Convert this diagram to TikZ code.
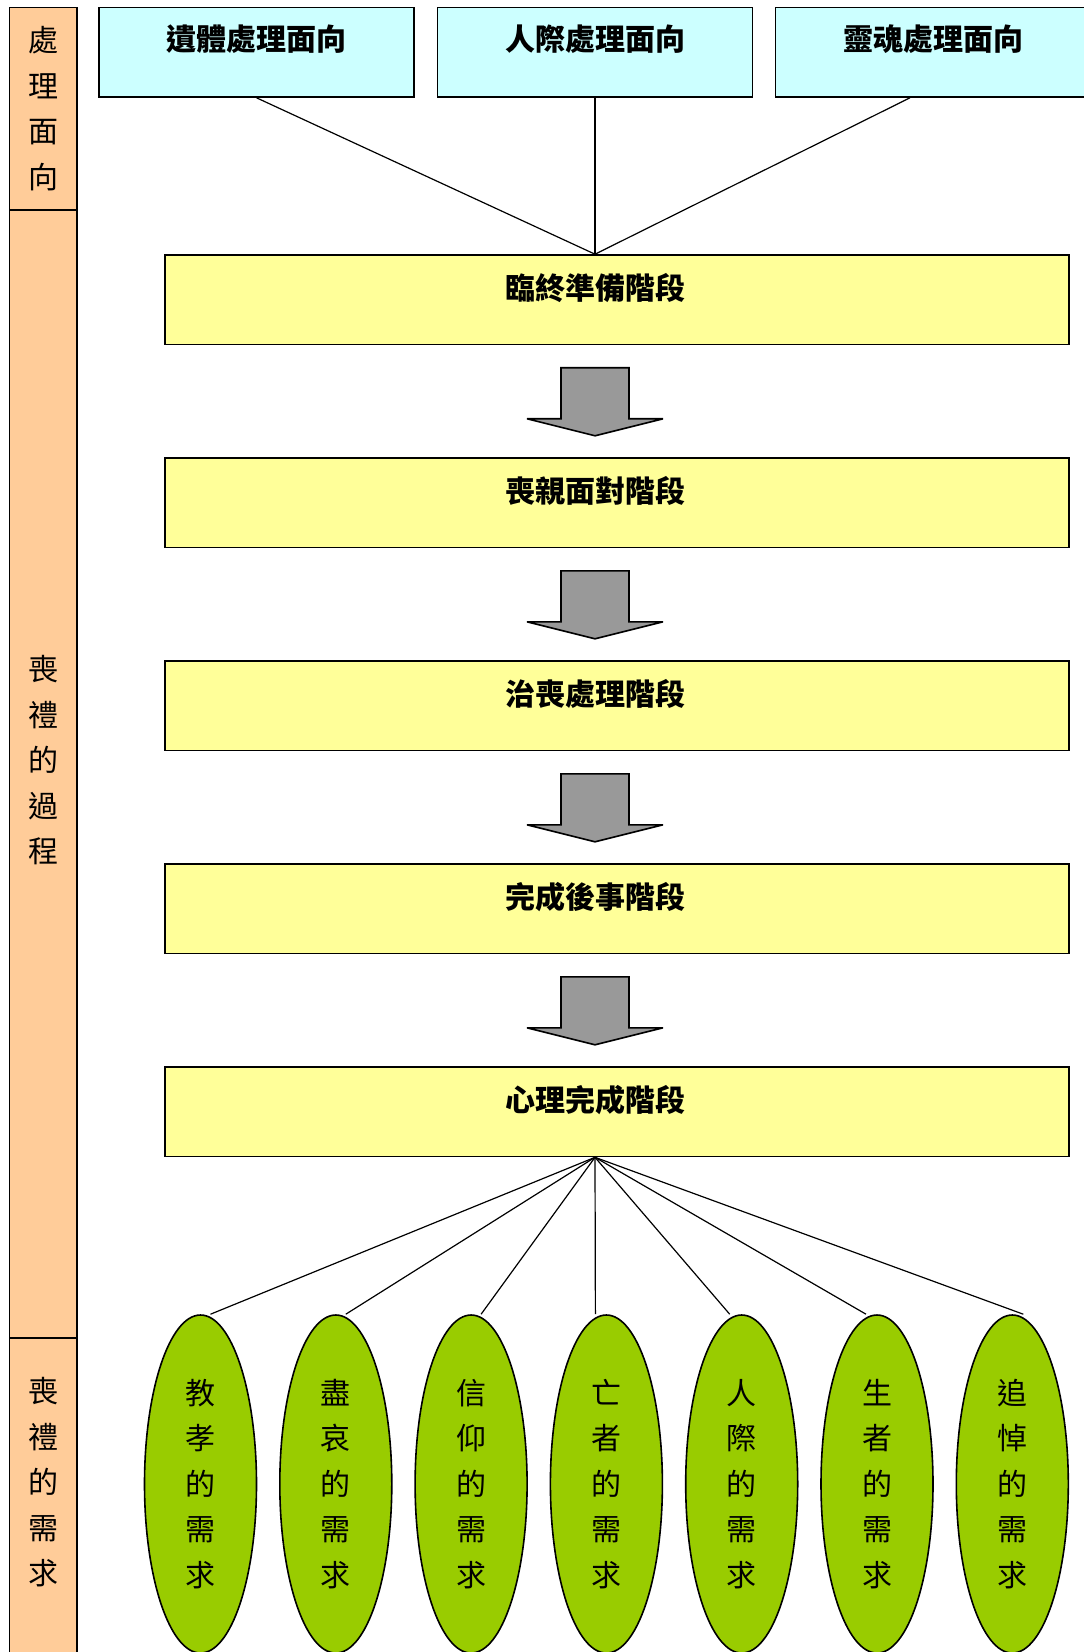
\documentclass[tikz,border=0pt]{standalone}
\usepackage{fontspec}
\newfontfamily\cjk{Noto Sans CJK TC}
\usetikzlibrary{shapes.geometric}
\definecolor{fondoaspecto}{HTML}{CCFFFF}
\definecolor{fondoetapa}{HTML}{FFFF99}
\definecolor{fondolateral}{HTML}{FFCC99}
\definecolor{fondonecesidad}{HTML}{99CC00}
\definecolor{flechagris}{HTML}{999999}
\begin{document}
\begin{tikzpicture}[x=0.5pt,y=-0.5pt,
    every node/.style={font=\cjk\fontsize{15}{22.75}\selectfont},
    lateral/.style={draw,fill=fondolateral,line width=.8pt,minimum width=33.75pt,inner sep=0pt,align=center},
    aspecto/.style={draw,fill=fondoaspecto,line width=.8pt,minimum width=157.5pt,minimum height=44.8pt,
        inner sep=0pt,text height=21.8pt,text depth=23pt,font=\cjk\bfseries\fontsize{15}{18}\selectfont},
    etapa/.style={draw,fill=fondoetapa,line width=.8pt,minimum width=452pt,minimum height=44.75pt,inner sep=0pt},
    rotulo/.style={inner sep=0pt,font=\cjk\bfseries\fontsize{15}{18}\selectfont},
    necesidad/.style={ellipse,draw,fill=fondonecesidad,line width=.8pt,minimum width=56pt,minimum height=169pt,
        inner sep=0pt,align=center},
    flecha/.style={draw,fill=flechagris,line width=.8pt,line join=miter,miter limit=1.5},
    enlace/.style={line width=.6pt}]
    \useasboundingbox (0,0) rectangle (1083,1652);
    % Columna lateral con los tres apartados.
    \node[lateral,minimum height=101.3pt] (la1) at (43.25,108.7) {處\\理\\面\\向};
    \node[lateral,minimum height=564pt,text depth=14.8pt] (la2) at (43.25,774) {喪\\禮\\的\\過\\程};
    \node[lateral,minimum height=161pt,text depth=17.8pt] (la3) at (43.25,1499) {喪\\禮\\的\\需\\求};
    % Los tres aspectos de arriba.
    \node[aspecto] (as1) at (256.5,52.2) {遺體處理面向};
    \node[aspecto] (as2) at (595,52.2) {人際處理面向};
    \node[aspecto] (as3) at (933,52.2) {靈魂處理面向};
    % Etapas del proceso.
    \foreach \i/\nombre in {1/臨終準備階段,2/喪親面對階段,3/治喪處理階段,4/完成後事階段,5/心理完成階段} {
        \node[etapa] (et\i) at (617,{255+203*(\i-1)+44.75}) {};
        \node[rotulo] (ro\i) at (595,{255+203*(\i-1)+33}) {\nombre};
    }
    \foreach \i in {1,...,4} {
        \draw[flecha] (et\i.south -| ro\i) ++(-34,22.5) -- ++(68,0) -- ++(0,51) -- ++(34,0)
            -- ++(-68,17) -- ++(-68,-17) -- ++(34,0) -- cycle;
    }
    \draw[enlace] (as1.south) -- (et1.north -| ro1);
    \draw[enlace] (as2.south) -- (et1.north -| ro1);
    \draw[enlace] ([xshift=-11.5pt]as3.south) -- (et1.north -| ro1);
    % Necesidades del funeral.
    \foreach \i/\txt/\dx in {1/教\\孝\\的\\需\\求/5pt,2/盡\\哀\\的\\需\\求/5pt,3/信\\仰\\的\\需\\求/5pt,
        4/亡\\者\\的\\需\\求/-5.5pt,5/人\\際\\的\\需\\求/-6pt,6/生\\者\\的\\需\\求/-5.5pt,7/追\\悼\\的\\需\\求/5.5pt} {
        \node[necesidad] (ne\i) at ({200.5+135.3*(\i-1)},1484) {\txt};
        \draw[enlace] (et5.south -| ro5) -- ([xshift=\dx]ne\i.north);
    }
\end{tikzpicture}
\end{document}
